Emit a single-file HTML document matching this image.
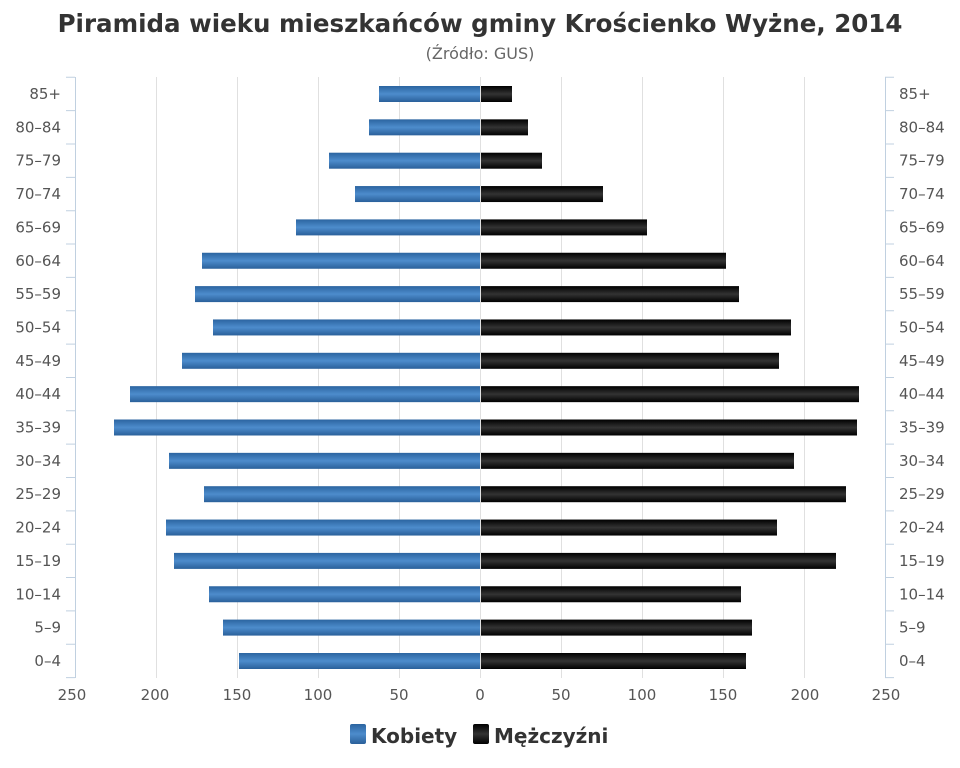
<!DOCTYPE html>
<html><head><meta charset="utf-8"><style>
body{margin:0;background:#fff;}
svg{display:block;font-family:"Liberation Sans","DejaVu Sans",sans-serif;}
</style></head><body>
<svg width="960" height="768" viewBox="0 0 960 768" xmlns="http://www.w3.org/2000/svg">
<defs>
<linearGradient id="b" x1="0" y1="0" x2="0" y2="1"><stop offset="0" stop-color="#2b64a0"/><stop offset="0.5" stop-color="#4d8ccc"/><stop offset="1" stop-color="#2a609a"/></linearGradient>
<linearGradient id="k" x1="0" y1="0" x2="0" y2="1"><stop offset="0" stop-color="#000"/><stop offset="0.5" stop-color="#333"/><stop offset="1" stop-color="#000"/></linearGradient>
</defs>
<text x="480" y="32" text-anchor="middle" font-size="24.5" font-weight="bold" fill="#333" font-family="DejaVu Sans, sans-serif">Piramida wieku mieszkańców gminy Krościenko Wyżne, 2014</text>
<text x="480" y="59" text-anchor="middle" font-size="16" fill="#666" font-family="DejaVu Sans, sans-serif">(Źródło: GUS)</text>
<g stroke="#e0e0e0" stroke-width="1">
<line x1="156.5" y1="77" x2="156.5" y2="678"/><line x1="237.5" y1="77" x2="237.5" y2="678"/><line x1="318.5" y1="77" x2="318.5" y2="678"/><line x1="399.5" y1="77" x2="399.5" y2="678"/><line x1="480.5" y1="77" x2="480.5" y2="678"/><line x1="561.5" y1="77" x2="561.5" y2="678"/><line x1="642.5" y1="77" x2="642.5" y2="678"/><line x1="723.5" y1="77" x2="723.5" y2="678"/><line x1="804.5" y1="77" x2="804.5" y2="678"/>
</g>
<g stroke="#c0d0e0" stroke-width="1" fill="none">
<path d="M75.5 77V678M885.5 77V678"/>
<path d="M66 77.3H75M66 110.65H75M66 144H75M66 177.35H75M66 210.7H75M66 244.05H75M66 277.4H75M66 310.75H75M66 344.1H75M66 377.45H75M66 410.8H75M66 444.15H75M66 477.5H75M66 510.85H75M66 544.2H75M66 577.55H75M66 610.9H75M66 644.25H75M66 677.6H75"/>
<path d="M885 77.3H894M885 110.65H894M885 144H894M885 177.35H894M885 210.7H894M885 244.05H894M885 277.4H894M885 310.75H894M885 344.1H894M885 377.45H894M885 410.8H894M885 444.15H894M885 477.5H894M885 510.85H894M885 544.2H894M885 577.55H894M885 610.9H894M885 644.25H894M885 677.6H894"/>
</g>
<g fill="url(#b)">
<rect x="379" y="86" width="101" height="16"/><rect x="369" y="119.35" width="111" height="16"/><rect x="329" y="152.7" width="151" height="16"/><rect x="355" y="186.05" width="125" height="16"/><rect x="296" y="219.4" width="184" height="16"/><rect x="202" y="252.75" width="278" height="16"/><rect x="195" y="286.1" width="285" height="16"/><rect x="213" y="319.45" width="267" height="16"/><rect x="182" y="352.8" width="298" height="16"/><rect x="130" y="386.15" width="350" height="16"/><rect x="114" y="419.5" width="366" height="16"/><rect x="169" y="452.85" width="311" height="16"/><rect x="204" y="486.2" width="276" height="16"/><rect x="166" y="519.55" width="314" height="16"/><rect x="174" y="552.9" width="306" height="16"/><rect x="209" y="586.25" width="271" height="16"/><rect x="223" y="619.6" width="257" height="16"/><rect x="239" y="653" width="241" height="16"/>
</g>
<g fill="url(#k)">
<rect x="481" y="86" width="31" height="16"/><rect x="481" y="119.35" width="47" height="16"/><rect x="481" y="152.7" width="61" height="16"/><rect x="481" y="186.05" width="122" height="16"/><rect x="481" y="219.4" width="166" height="16"/><rect x="481" y="252.75" width="245" height="16"/><rect x="481" y="286.1" width="258" height="16"/><rect x="481" y="319.45" width="310" height="16"/><rect x="481" y="352.8" width="298" height="16"/><rect x="481" y="386.15" width="378" height="16"/><rect x="481" y="419.5" width="376" height="16"/><rect x="481" y="452.85" width="313" height="16"/><rect x="481" y="486.2" width="365" height="16"/><rect x="481" y="519.55" width="296" height="16"/><rect x="481" y="552.9" width="355" height="16"/><rect x="481" y="586.25" width="260" height="16"/><rect x="481" y="619.6" width="271" height="16"/><rect x="481" y="653" width="265" height="16"/>
</g>
<g font-size="15" fill="#555" font-family="DejaVu Sans, sans-serif">
<g text-anchor="end">
<text x="61" y="99">85+</text><text x="61" y="132.35">80–84</text><text x="61" y="165.7">75–79</text><text x="61" y="199.05">70–74</text><text x="61" y="232.4">65–69</text><text x="61" y="265.75">60–64</text><text x="61" y="299.1">55–59</text><text x="61" y="332.45">50–54</text><text x="61" y="365.8">45–49</text><text x="61" y="399.15">40–44</text><text x="61" y="432.5">35–39</text><text x="61" y="465.85">30–34</text><text x="61" y="499.2">25–29</text><text x="61" y="532.55">20–24</text><text x="61" y="565.9">15–19</text><text x="61" y="599.25">10–14</text><text x="61" y="632.6">5–9</text><text x="61" y="666">0–4</text>
</g>
<g>
<text x="899" y="99">85+</text><text x="899" y="132.35">80–84</text><text x="899" y="165.7">75–79</text><text x="899" y="199.05">70–74</text><text x="899" y="232.4">65–69</text><text x="899" y="265.75">60–64</text><text x="899" y="299.1">55–59</text><text x="899" y="332.45">50–54</text><text x="899" y="365.8">45–49</text><text x="899" y="399.15">40–44</text><text x="899" y="432.5">35–39</text><text x="899" y="465.85">30–34</text><text x="899" y="499.2">25–29</text><text x="899" y="532.55">20–24</text><text x="899" y="565.9">15–19</text><text x="899" y="599.25">10–14</text><text x="899" y="632.6">5–9</text><text x="899" y="666">0–4</text>
</g>
<g text-anchor="middle">
<text x="72" y="700">250</text><text x="155" y="700">200</text><text x="237" y="700">150</text><text x="318" y="700">100</text><text x="399" y="700">50</text><text x="480" y="700">0</text><text x="561" y="700">50</text><text x="642" y="700">100</text><text x="723" y="700">150</text><text x="805" y="700">200</text><text x="886" y="700">250</text>
</g>
</g>
<rect x="350" y="724" width="16" height="20" rx="2" fill="url(#b)"/>
<text x="371" y="743" font-size="20" font-weight="bold" fill="#333" font-family="DejaVu Sans, sans-serif">Kobiety</text>
<rect x="473" y="724" width="16" height="20" rx="2" fill="url(#k)"/>
<text x="494" y="743" font-size="20" font-weight="bold" fill="#333" font-family="DejaVu Sans, sans-serif">Mężczyźni</text>
</svg>
</body></html>
